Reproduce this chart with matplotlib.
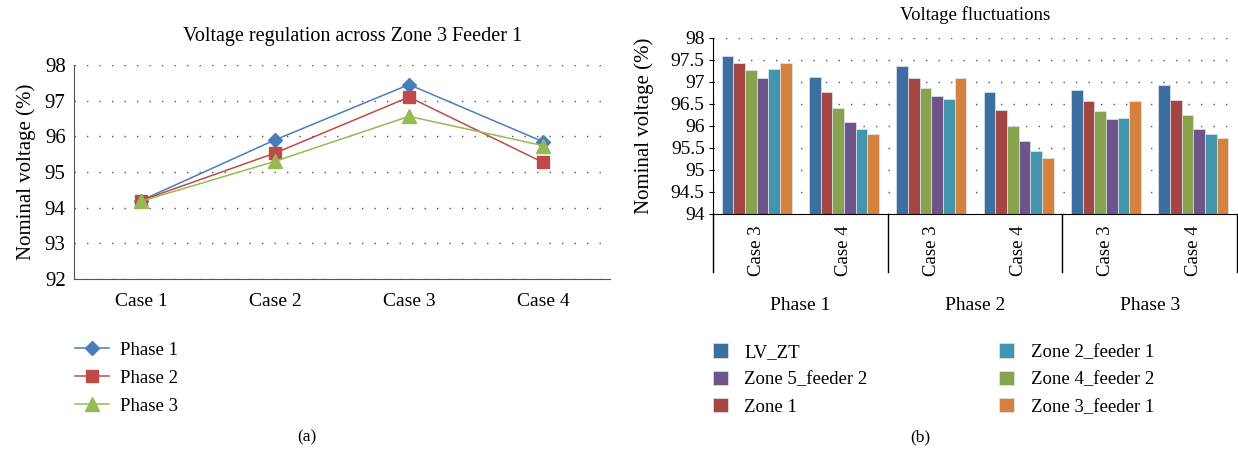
import matplotlib
matplotlib.use("Agg")
import matplotlib.pyplot as plt
import numpy as np

plt.rcParams["font.family"] = ["Liberation Serif", "DejaVu Serif"]

# (a) voltage regulation across zone 3 feeder 1
CASES = ["Case 1", "Case 2", "Case 3", "Case 4"]
PHASE1 = [94.2, 95.9, 97.45, 95.85]
PHASE2 = [94.2, 95.53, 97.1, 95.27]
PHASE3 = [94.18, 95.3, 96.56, 95.74]

# (b) voltage fluctuations, one value per (phase, case) group
GROUP_CASES = ["Case 3", "Case 4", "Case 3", "Case 4", "Case 3", "Case 4"]
PHASES = ["Phase 1", "Phase 2", "Phase 3"]
LV_ZT = [97.58, 97.11, 97.35, 96.76, 96.82, 96.92]
ZONE1 = [97.42, 96.76, 97.09, 96.37, 96.57, 96.58]
ZONE4_F2 = [97.27, 96.41, 96.87, 96.0, 96.34, 96.24]
ZONE5_F2 = [97.09, 96.09, 96.68, 95.66, 96.16, 95.92]
ZONE2_F1 = [97.29, 95.93, 96.62, 95.43, 96.18, 95.82]
ZONE3_F1 = [97.42, 95.82, 97.09, 95.27, 96.57, 95.72]

W, H = 1238, 462
fig = plt.figure(figsize=(W / 100, H / 100), dpi=100)


def px_axes(left, top, right, bottom):
    return fig.add_axes([left / W, 1 - bottom / H, (right - left) / W, (bottom - top) / H])


# ---- left panel ----
ax = px_axes(74, 65, 610, 279)
x = np.arange(len(CASES))
ax.plot(x, PHASE1, color="#4A7EBB", lw=1.1, marker="D", ms=7, label="Phase 1")
ax.plot(x, PHASE2, color="#BE4B48", lw=1.1, marker="s", ms=9, label="Phase 2")
ax.plot(x, PHASE3, color="#98B954", lw=1.1, marker="^", ms=9.5, label="Phase 3")
ax.set_xlim(-0.5, 3.5)
ax.set_ylim(92, 98)
ax.set_yticks(range(92, 99))
ax.set_xticks(x)
ax.set_xticklabels(CASES)
ax.yaxis.grid(True, linestyle=(0, (1, 8)), color="#555555", lw=1)
ax.set_axisbelow(True)
for s in ["top", "right"]:
    ax.spines[s].set_visible(False)
for s in ["left", "bottom"]:
    ax.spines[s].set_color("#555555")
ax.tick_params(length=0, labelsize=14, pad=10)
ax.tick_params(axis="y", labelsize=15, pad=6)
ax.set_ylabel("Nominal voltage (%)", fontsize=15, labelpad=6)
ax.set_title("Voltage regulation across Zone 3 Feeder 1", fontsize=14.5, pad=17, x=0.52)
ax.legend(loc="upper left", bbox_to_anchor=(-0.03, -0.215), frameon=False,
          fontsize=13.5, handlelength=1.8, handletextpad=0.6, labelspacing=0.57)
fig.text(307 / W, 1 - 437 / H, "(a)", ha="center", va="center", fontsize=12.5)

# ---- right panel ----
bx = px_axes(713, 37.7, 1237, 214)
series = [
    ("LV_ZT", LV_ZT, "#3C6E9F"),
    ("Zone 1", ZONE1, "#A44643"),
    ("Zone 4_feeder 2", ZONE4_F2, "#88A24F"),
    ("Zone 5_feeder 2", ZONE5_F2, "#6D5489"),
    ("Zone 2_feeder 1", ZONE2_F1, "#4395AB"),
    ("Zone 3_feeder 1", ZONE3_F1, "#D5823F"),
]
gx = np.arange(len(GROUP_CASES))
bw = 0.8 / len(series)
bars = {}
for i, (name, vals, col) in enumerate(series):
    offs = gx + (i - (len(series) - 1) / 2) * bw
    bars[name] = bx.bar(offs, np.array(vals) - 94, bottom=94, width=bw, color=col,
                        edgecolor="#dfe6ee", linewidth=0.5, label=name)
bx.set_xlim(-0.5, len(GROUP_CASES) - 0.5)
bx.set_ylim(94, 98)
yt = np.arange(94, 98.01, 0.5)
bx.set_yticks(yt)
bx.set_yticklabels([f"{v:g}" for v in yt])
bx.yaxis.grid(True, linestyle=(0, (1, 8)), color="#555555", lw=1)
bx.set_axisbelow(True)
for s in ["top", "right"]:
    bx.spines[s].set_visible(False)
bx.spines["left"].set_color("black")
bx.spines["bottom"].set_color("black")
bx.set_xticks(gx)
bx.set_xticklabels(GROUP_CASES, rotation=90, fontsize=13.5)
bx.tick_params(axis="x", length=0, pad=8)
bx.tick_params(axis="y", length=3, direction="out", labelsize=14, pad=3)
bx.set_ylabel("Nominal voltage (%)", fontsize=15, labelpad=12)
bx.set_title("Voltage fluctuations", fontsize=13.5, pad=13)

trans = bx.get_xaxis_transform()
for xd in [-0.5, 1.5, 3.5, 5.5]:
    bx.plot([xd, xd], [0, -0.33], transform=trans, color="black", lw=1, clip_on=False)
for k, ph in enumerate(PHASES):
    bx.text(2 * k + 0.5, -0.52, ph, transform=trans, ha="center", va="center", fontsize=14)

order = ["LV_ZT", "Zone 5_feeder 2", "Zone 1", "Zone 2_feeder 1", "Zone 4_feeder 2", "Zone 3_feeder 1"]
bx.legend([bars[n] for n in order], order, loc="upper left", bbox_to_anchor=(-0.033, -0.637),
          ncol=2, frameon=False, fontsize=13.5, handlelength=0.8, handleheight=0.8,
          labelspacing=0.52, columnspacing=7.0, handletextpad=0.9)
fig.text(920 / W, 1 - 437 / H, "(b)", ha="center", va="center", fontsize=12.5)

fig.savefig("out.png", dpi=100)
